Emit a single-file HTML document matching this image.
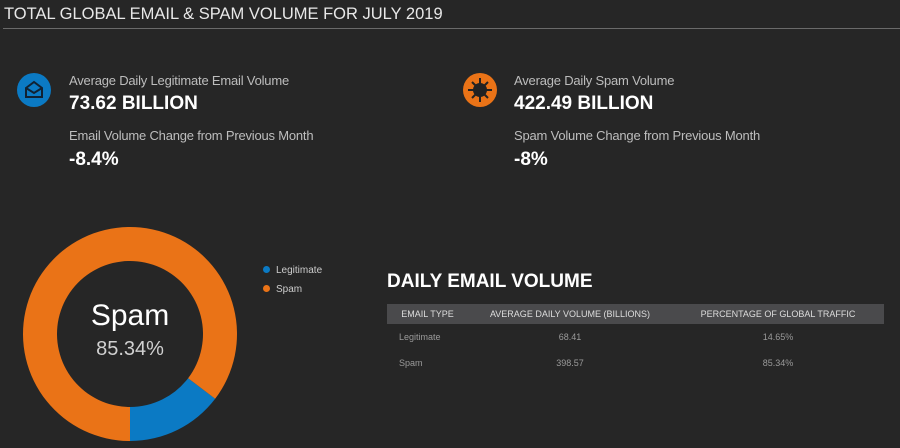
<!DOCTYPE html>
<html><head><meta charset="utf-8"><style>
body{margin:0;width:900px;height:448px;background:#262626;font-family:"Liberation Sans",sans-serif;color:#fff;overflow:hidden;position:relative}
.a{position:absolute;white-space:nowrap}
.lbl{font-size:13px;color:#bdbdbd;letter-spacing:-0.2px}
.big{font-size:19px;font-weight:bold;color:#fff}
table{border-collapse:collapse;font-size:9px}
th{background:#4a4a4c;color:#ddd;font-weight:normal;height:20px;text-align:center;padding:0}
td{color:#9a9a9a;text-align:center;height:26px;padding:0}
</style></head><body>
<div class="a" style="left:4px;top:5px;font-size:16.5px;color:#e8e8e8">TOTAL GLOBAL EMAIL &amp; SPAM VOLUME FOR JULY 2019</div>
<div class="a" style="left:3px;top:28px;width:897px;height:1px;background:#6a6a6a"></div>

<svg class="a" style="left:17px;top:73px" width="34" height="34"><circle cx="17" cy="17" r="17" fill="#0b7ac4"/><path d="M9 15 L17 9 L25 15 V24 H9 Z M9 15 L17 20 L25 15" fill="none" stroke="#123" stroke-width="2"/></svg>
<div class="a lbl" style="left:69px;top:73px">Average Daily Legitimate Email Volume</div>
<div class="a big" style="left:69px;top:93px">73.62 BILLION</div>
<div class="a lbl" style="left:69px;top:128px">Email Volume Change from Previous Month</div>
<div class="a big" style="left:69px;top:149px">-8.4%</div>

<svg class="a" style="left:463px;top:73px" width="34" height="34"><circle cx="17" cy="17" r="17" fill="#ea7317"/><circle cx="17" cy="17" r="7" fill="#222"/><g stroke="#222" stroke-width="2"><line x1="17" y1="5" x2="17" y2="29"/><line x1="5" y1="17" x2="29" y2="17"/><line x1="9" y1="9" x2="25" y2="25"/><line x1="25" y1="9" x2="9" y2="25"/></g></svg>
<div class="a lbl" style="left:514px;top:73px">Average Daily Spam Volume</div>
<div class="a big" style="left:514px;top:93px">422.49 BILLION</div>
<div class="a lbl" style="left:514px;top:128px">Spam Volume Change from Previous Month</div>
<div class="a big" style="left:514px;top:149px">-8%</div>

<svg class="a" id="donut" style="left:0;top:220px" width="340" height="228"></svg>
<div class="a" style="left:30px;top:299px;width:200px;text-align:center;font-size:30px;color:#fff">Spam</div>
<div class="a" style="left:30px;top:338px;width:200px;text-align:center;font-size:20px;color:#d0d0d0">85.34%</div>

<div class="a" style="left:263px;top:265px;font-size:10px;color:#ccc"><span style="display:inline-block;width:7px;height:7px;border-radius:50%;background:#0b7ac4;margin-right:6px"></span>Legitimate</div>
<div class="a" style="left:263px;top:284px;font-size:10px;color:#ccc"><span style="display:inline-block;width:7px;height:7px;border-radius:50%;background:#ea7317;margin-right:6px"></span>Spam</div>

<div class="a" style="left:387px;top:271px;font-size:19px;font-weight:bold">DAILY EMAIL VOLUME</div>
<table class="a" style="left:387px;top:304px;width:497px;table-layout:fixed">
<tr><th style="width:81px">EMAIL TYPE</th><th style="width:204px">AVERAGE DAILY VOLUME (BILLIONS)</th><th>PERCENTAGE OF GLOBAL TRAFFIC</th></tr>
<tr><td style="text-align:left;padding-left:12px">Legitimate</td><td>68.41</td><td>14.65%</td></tr>
<tr><td style="text-align:left;padding-left:12px">Spam</td><td>398.57</td><td>85.34%</td></tr>
</table>

<script>
const categories=["Legitimate","Spam"];
const values=[14.65,85.34];
const colors=["#0b7ac4","#ea7317"];
const svg=document.getElementById('donut');
const cx=130,cy=114,R=107,r=73;
const total=values.reduce((a,b)=>a+b,0);
function pt(a,rad){return [cx+rad*Math.sin(a),cy-rad*Math.cos(a)];}
let start=Math.PI-values[0]/total*2*Math.PI;
values.forEach((v,i)=>{
  const sw=v/total*2*Math.PI,end=start+sw,lg=sw>Math.PI?1:0;
  const [x1,y1]=pt(start,R),[x2,y2]=pt(end,R),[x3,y3]=pt(end,r),[x4,y4]=pt(start,r);
  const p=document.createElementNS('http://www.w3.org/2000/svg','path');
  p.setAttribute('d',`M${x1} ${y1}A${R} ${R} 0 ${lg} 1 ${x2} ${y2}L${x3} ${y3}A${r} ${r} 0 ${lg} 0 ${x4} ${y4}Z`);
  p.setAttribute('fill',colors[i]);
  
  
  svg.appendChild(p);
  start=end;
});
</script>
</body></html>
